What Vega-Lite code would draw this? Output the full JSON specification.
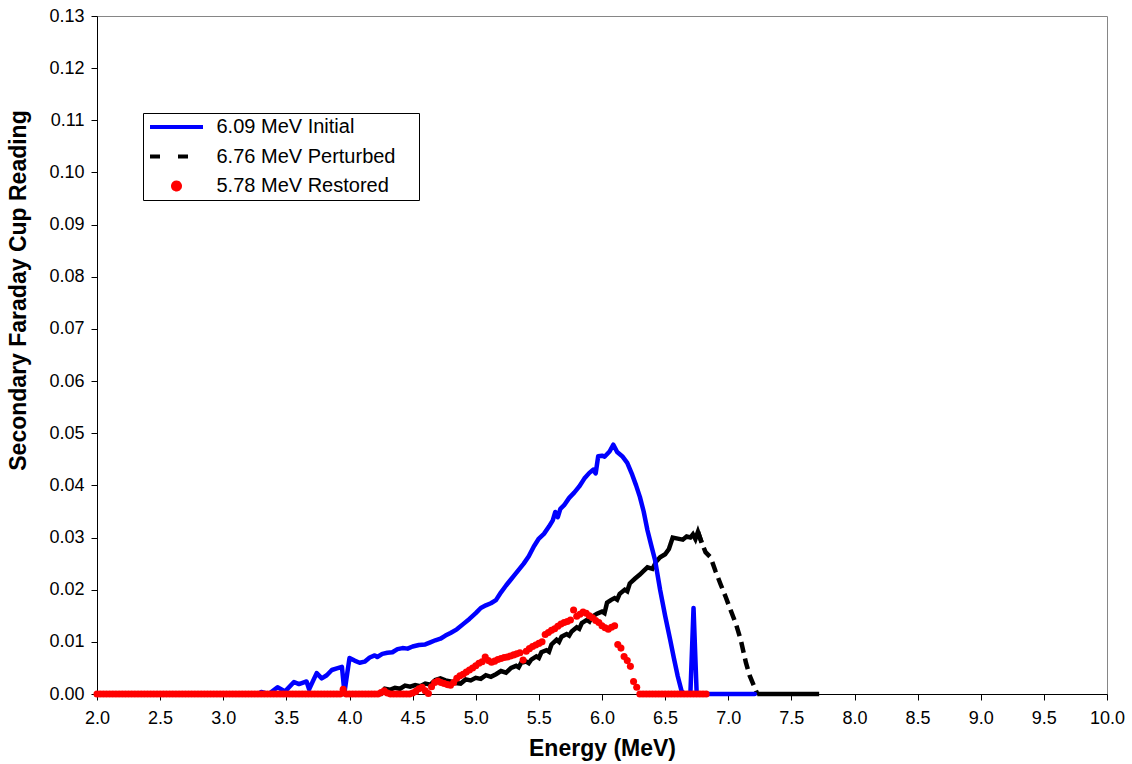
{
  "$schema": "https://vega.github.io/schema/vega-lite/v6.json",
  "width": 1010,
  "height": 678,
  "autosize": {"type": "none"},
  "padding": {"left": 97, "top": 16, "right": 25, "bottom": 70},
  "background": "white",
  "config": {
    "view": {"stroke": "#868686", "strokeWidth": 1},
    "font": "Liberation Sans",
    "axis": {"grid": false, "labelFlush": false, "domainColor": "#000000", "tickColor": "#000000", "labelColor": "#000000", "titleColor": "#000000", "labelFont": "Liberation Sans", "titleFont": "Liberation Sans", "labelFontSize": 18, "titleFontSize": 23, "titleFontWeight": "bold", "tickSize": 6, "domainWidth": 1, "tickWidth": 1},
    "axisX": {"labelPadding": 9, "titlePadding": 10},
    "axisY": {"labelPadding": 7, "titlePadding": 18, "titleY": 274},
    "legend": {"orient": "none", "legendX": 46, "legendY": 97, "strokeColor": "#000000", "fillColor": "#ffffff", "padding": 2, "rowPadding": 7.5, "labelFont": "Liberation Sans", "labelFontSize": 20, "labelColor": "#000000", "symbolSize": 400, "symbolStrokeWidth": 4, "symbolOffset": 19.5, "labelOffset": 28, "labelLimit": 500}
  },
  "datasets": {
    "initial": [
      {"E":2.00,"V":0},{"E":3.28,"V":0},{"E":3.30,"V":0.0004},{"E":3.36,"V":0},{"E":3.43,"V":0.0013},{"E":3.49,"V":0.0005},{"E":3.56,"V":0.0023},{"E":3.60,"V":0.0019},{"E":3.66,"V":0.0024},{"E":3.68,"V":0.0009},{"E":3.74,"V":0.0040},{"E":3.78,"V":0.0030},{"E":3.82,"V":0.0036},{"E":3.86,"V":0.0046},{"E":3.90,"V":0.0049},{"E":3.94,"V":0.0052},{"E":3.96,"V":0.0003},{"E":4.00,"V":0.0069},{"E":4.04,"V":0.0064},{"E":4.08,"V":0.0060},{"E":4.12,"V":0.0062},{"E":4.16,"V":0.0070},{"E":4.20,"V":0.0074},{"E":4.22,"V":0.0071},{"E":4.26,"V":0.0077},{"E":4.30,"V":0.0079},{"E":4.34,"V":0.0080},{"E":4.38,"V":0.0086},{"E":4.42,"V":0.0088},{"E":4.46,"V":0.0087},{"E":4.50,"V":0.0091},{"E":4.55,"V":0.0094},{"E":4.60,"V":0.0095},{"E":4.64,"V":0.0099},{"E":4.68,"V":0.0103},{"E":4.72,"V":0.0106},{"E":4.76,"V":0.0112},{"E":4.80,"V":0.0117},{"E":4.85,"V":0.0124},{"E":4.90,"V":0.0134},{"E":4.95,"V":0.0144},{"E":5.00,"V":0.0155},{"E":5.04,"V":0.0165},{"E":5.08,"V":0.0170},{"E":5.12,"V":0.0174},{"E":5.16,"V":0.0180},{"E":5.20,"V":0.0195},{"E":5.24,"V":0.0208},{"E":5.28,"V":0.0220},{"E":5.30,"V":0.0226},{"E":5.34,"V":0.0238},{"E":5.38,"V":0.0250},{"E":5.42,"V":0.0264},{"E":5.46,"V":0.0283},{"E":5.50,"V":0.0298},{"E":5.54,"V":0.0307},{"E":5.58,"V":0.0321},{"E":5.61,"V":0.0333},{"E":5.63,"V":0.0349},{"E":5.65,"V":0.0339},{"E":5.67,"V":0.0355},{"E":5.70,"V":0.0362},{"E":5.74,"V":0.0376},{"E":5.78,"V":0.0386},{"E":5.82,"V":0.0398},{"E":5.86,"V":0.0413},{"E":5.90,"V":0.0424},{"E":5.93,"V":0.0430},{"E":5.95,"V":0.0423},{"E":5.97,"V":0.0456},{"E":6.00,"V":0.0457},{"E":6.02,"V":0.0455},{"E":6.06,"V":0.0465},{"E":6.09,"V":0.0478},{"E":6.12,"V":0.0464},{"E":6.16,"V":0.0456},{"E":6.20,"V":0.0443},{"E":6.24,"V":0.0420},{"E":6.27,"V":0.0400},{"E":6.30,"V":0.0378},{"E":6.33,"V":0.0350},{"E":6.36,"V":0.0314},{"E":6.39,"V":0.0285},{"E":6.42,"V":0.0257},{"E":6.46,"V":0.0200},{"E":6.50,"V":0.0150},{"E":6.54,"V":0.0104},{"E":6.57,"V":0.0068},{"E":6.60,"V":0.0034},{"E":6.63,"V":0.0006},{"E":6.65,"V":0},{"E":6.70,"V":0},{"E":6.725,"V":0.0165},{"E":6.75,"V":0},{"E":7.21,"V":0}
    ],
    "perturbed": [
      {"E":2.00,"V":0},{"E":4.25,"V":0},{"E":4.28,"V":0.0010},{"E":4.32,"V":0.0008},{"E":4.36,"V":0.0012},{"E":4.40,"V":0.0010},{"E":4.44,"V":0.0016},{"E":4.48,"V":0.0014},{"E":4.52,"V":0.0017},{"E":4.56,"V":0.0015},{"E":4.60,"V":0.0020},{"E":4.64,"V":0.0018},{"E":4.68,"V":0.0027},{"E":4.72,"V":0.0030},{"E":4.76,"V":0.0026},{"E":4.80,"V":0.0024},{"E":4.84,"V":0.0021},{"E":4.88,"V":0.0020},{"E":4.92,"V":0.0028},{"E":4.96,"V":0.0026},{"E":5.00,"V":0.0031},{"E":5.04,"V":0.0029},{"E":5.08,"V":0.0036},{"E":5.12,"V":0.0033},{"E":5.16,"V":0.0038},{"E":5.20,"V":0.0044},{"E":5.24,"V":0.0041},{"E":5.28,"V":0.0050},{"E":5.32,"V":0.0054},{"E":5.34,"V":0.0051},{"E":5.36,"V":0.0060},{"E":5.40,"V":0.0062},{"E":5.42,"V":0.0059},{"E":5.44,"V":0.0066},{"E":5.48,"V":0.0072},{"E":5.50,"V":0.0069},{"E":5.52,"V":0.0080},{"E":5.56,"V":0.0084},{"E":5.58,"V":0.0081},{"E":5.60,"V":0.0095},{"E":5.64,"V":0.0104},{"E":5.66,"V":0.0100},{"E":5.68,"V":0.0110},{"E":5.72,"V":0.0115},{"E":5.74,"V":0.0112},{"E":5.76,"V":0.0120},{"E":5.80,"V":0.0128},{"E":5.82,"V":0.0125},{"E":5.84,"V":0.0136},{"E":5.88,"V":0.0142},{"E":5.90,"V":0.0139},{"E":5.92,"V":0.0148},{"E":5.96,"V":0.0154},{"E":6.00,"V":0.0158},{"E":6.02,"V":0.0155},{"E":6.04,"V":0.0175},{"E":6.07,"V":0.0180},{"E":6.10,"V":0.0184},{"E":6.12,"V":0.0181},{"E":6.14,"V":0.0192},{"E":6.18,"V":0.0200},{"E":6.20,"V":0.0197},{"E":6.22,"V":0.0212},{"E":6.26,"V":0.0221},{"E":6.30,"V":0.0229},{"E":6.33,"V":0.0236},{"E":6.36,"V":0.0243},{"E":6.40,"V":0.0240},{"E":6.43,"V":0.0254},{"E":6.46,"V":0.0262},{"E":6.50,"V":0.0268},{"E":6.53,"V":0.0278},{"E":6.56,"V":0.0300},{"E":6.60,"V":0.0298},{"E":6.64,"V":0.0296},{"E":6.67,"V":0.0302},{"E":6.70,"V":0.0300},{"E":6.72,"V":0.0306},{"E":6.74,"V":0.0297},{"E":6.76,"V":0.0311},{"E":6.79,"V":0.0290},{"E":6.82,"V":0.0272},{"E":6.86,"V":0.0262},{"E":6.90,"V":0.0235},{"E":6.94,"V":0.0210},{"E":6.98,"V":0.0186},{"E":7.02,"V":0.0160},{"E":7.06,"V":0.0135},{"E":7.10,"V":0.0103},{"E":7.14,"V":0.0060},{"E":7.17,"V":0.0035},{"E":7.21,"V":0.0012},{"E":7.23,"V":0},{"E":7.72,"V":0}
    ],
    "restored": [
      {"E":2.000,"V":0},{"E":2.025,"V":0},{"E":2.050,"V":0},{"E":2.075,"V":0},{"E":2.100,"V":0},{"E":2.125,"V":0},{"E":2.150,"V":0},{"E":2.175,"V":0},{"E":2.200,"V":0},{"E":2.225,"V":0},{"E":2.250,"V":0},{"E":2.275,"V":0},{"E":2.300,"V":0},{"E":2.325,"V":0},{"E":2.350,"V":0},{"E":2.375,"V":0},{"E":2.400,"V":0},{"E":2.425,"V":0},{"E":2.450,"V":0},{"E":2.475,"V":0},{"E":2.500,"V":0},{"E":2.525,"V":0},{"E":2.550,"V":0},{"E":2.575,"V":0},{"E":2.600,"V":0},{"E":2.625,"V":0},{"E":2.650,"V":0},{"E":2.675,"V":0},{"E":2.700,"V":0},{"E":2.725,"V":0},{"E":2.750,"V":0},{"E":2.775,"V":0},{"E":2.800,"V":0},{"E":2.825,"V":0},{"E":2.850,"V":0},{"E":2.875,"V":0},{"E":2.900,"V":0},{"E":2.925,"V":0},{"E":2.950,"V":0},{"E":2.975,"V":0},{"E":3.000,"V":0},{"E":3.025,"V":0},{"E":3.050,"V":0},{"E":3.075,"V":0},{"E":3.100,"V":0},{"E":3.125,"V":0},{"E":3.150,"V":0},{"E":3.175,"V":0},{"E":3.200,"V":0},{"E":3.225,"V":0},{"E":3.250,"V":0},{"E":3.275,"V":0},{"E":3.300,"V":0},{"E":3.325,"V":0},{"E":3.350,"V":0},{"E":3.375,"V":0},{"E":3.400,"V":0},{"E":3.425,"V":0},{"E":3.450,"V":0},{"E":3.475,"V":0},{"E":3.500,"V":0},{"E":3.525,"V":0},{"E":3.550,"V":0},{"E":3.575,"V":0},{"E":3.600,"V":0},{"E":3.625,"V":0},{"E":3.650,"V":0},{"E":3.675,"V":0},{"E":3.700,"V":0},{"E":3.725,"V":0},{"E":3.750,"V":0},{"E":3.775,"V":0},{"E":3.800,"V":0},{"E":3.825,"V":0},{"E":3.850,"V":0},{"E":3.875,"V":0},{"E":3.900,"V":0},{"E":3.925,"V":0},{"E":3.950,"V":0.0009},{"E":3.975,"V":0},{"E":4.000,"V":0},{"E":4.025,"V":0},{"E":4.050,"V":0},{"E":4.075,"V":0},{"E":4.100,"V":0},{"E":4.125,"V":0},{"E":4.150,"V":0},{"E":4.175,"V":0},{"E":4.200,"V":0},{"E":4.225,"V":0},
      {"E":4.250,"V":0.0003},{"E":4.275,"V":0.0006},{"E":4.300,"V":0.0002},{"E":4.325,"V":0},{"E":4.350,"V":0},{"E":4.375,"V":0},{"E":4.400,"V":0},{"E":4.425,"V":0},{"E":4.450,"V":0},{"E":4.475,"V":0},{"E":4.500,"V":0.0002},{"E":4.525,"V":0.0005},{"E":4.550,"V":0.0010},{"E":4.575,"V":0.0013},{"E":4.600,"V":0.0006},{"E":4.625,"V":0.0001},{"E":4.650,"V":0.0014},{"E":4.675,"V":0.0022},{"E":4.700,"V":0.0025},{"E":4.725,"V":0.0022},{"E":4.750,"V":0.0020},{"E":4.775,"V":0.0018},{"E":4.800,"V":0.0017},{"E":4.825,"V":0.0022},{"E":4.850,"V":0.0030},{"E":4.875,"V":0.0035},{"E":4.900,"V":0.0038},{"E":4.925,"V":0.0042},{"E":4.950,"V":0.0046},{"E":4.975,"V":0.0050},{"E":5.000,"V":0.0054},{"E":5.025,"V":0.0059},{"E":5.050,"V":0.0062},{"E":5.075,"V":0.0071},{"E":5.100,"V":0.0064},{"E":5.125,"V":0.0061},{"E":5.150,"V":0.0063},{"E":5.175,"V":0.0066},{"E":5.200,"V":0.0068},{"E":5.225,"V":0.0070},{"E":5.250,"V":0.0071},{"E":5.275,"V":0.0073},{"E":5.300,"V":0.0075},{"E":5.325,"V":0.0077},{"E":5.350,"V":0.0079},{"E":5.375,"V":0.0065},{"E":5.400,"V":0.0082},{"E":5.425,"V":0.0087},{"E":5.450,"V":0.0091},{"E":5.475,"V":0.0094},{"E":5.500,"V":0.0097},{"E":5.525,"V":0.0100},{"E":5.550,"V":0.0114},{"E":5.575,"V":0.0118},{"E":5.600,"V":0.0122},{"E":5.625,"V":0.0125},{"E":5.650,"V":0.0130},{"E":5.675,"V":0.0134},{"E":5.700,"V":0.0137},{"E":5.725,"V":0.0139},{"E":5.750,"V":0.0142},{"E":5.775,"V":0.0161},{"E":5.800,"V":0.0149},{"E":5.825,"V":0.0153},{"E":5.850,"V":0.0157},{"E":5.875,"V":0.0155},{"E":5.900,"V":0.0150},{"E":5.925,"V":0.0146},{"E":5.950,"V":0.0141},{"E":5.975,"V":0.0137},{"E":6.000,"V":0.0131},{"E":6.025,"V":0.0127},{"E":6.050,"V":0.0124},{"E":6.075,"V":0.0128},{"E":6.100,"V":0.0131},{"E":6.125,"V":0.0095},{"E":6.150,"V":0.0088},{"E":6.175,"V":0.0072},{"E":6.200,"V":0.0064},{"E":6.225,"V":0.0053},{"E":6.250,"V":0.0024},{"E":6.275,"V":0.0013},
      {"E":6.300,"V":0},{"E":6.325,"V":0},{"E":6.350,"V":0},{"E":6.375,"V":0},{"E":6.400,"V":0},{"E":6.425,"V":0},{"E":6.450,"V":0},{"E":6.475,"V":0},{"E":6.500,"V":0},{"E":6.525,"V":0},{"E":6.550,"V":0},{"E":6.575,"V":0},{"E":6.600,"V":0},{"E":6.625,"V":0},{"E":6.650,"V":0},{"E":6.675,"V":0},{"E":6.700,"V":0},{"E":6.725,"V":0},{"E":6.750,"V":0},{"E":6.775,"V":0},{"E":6.800,"V":0},{"E":6.825,"V":0}
    ]
  },
  "encoding": {
    "x": {"field": "E", "type": "quantitative", "scale": {"domain": [2, 10], "nice": false, "zero": false}, "axis": {"values": [2, 2.5, 3, 3.5, 4, 4.5, 5, 5.5, 6, 6.5, 7, 7.5, 8, 8.5, 9, 9.5, 10], "format": ".1f", "title": "Energy (MeV)"}},
    "y": {"field": "V", "type": "quantitative", "scale": {"domain": [0, 0.13], "nice": false}, "axis": {"values": [0, 0.01, 0.02, 0.03, 0.04, 0.05, 0.06, 0.07, 0.08, 0.09, 0.1, 0.11, 0.12, 0.13], "format": ".2f", "title": "Secondary Faraday Cup Reading"}}
  },
  "layer": [
    {
      "data": {"name": "perturbed"},
      "transform": [{"filter": "datum.E <= 6.79"}],
      "mark": {"type": "line", "strokeWidth": 4.5, "strokeJoin": "miter", "strokeCap": "butt"},
      "encoding": {
        "color": {"datum": "6.76 MeV Perturbed", "type": "nominal",
          "scale": {"domain": ["6.09 MeV Initial", "6.76 MeV Perturbed", "5.78 MeV Restored"], "range": ["#0000FF", "#000000", "#FF0000"]},
          "legend": {
            "title": null,
            "labelExpr": "datum.label + '\u00a0\u2800'",
            "encode": {
              "symbols": {"update": {
                "shape": {"signal": "datum.value === '5.78 MeV Restored' ? 'M0.35,0A0.35,0.35,0,1,1,-0.35,0A0.35,0.35,0,1,1,0.35,0Z' : 'M-2.65,0L2.65,0'"},
                "size": {"value": 400},
                "fill": {"signal": "datum.value === '5.78 MeV Restored' ? '#FF0000' : 'transparent'"},
                "stroke": {"signal": "datum.value === '6.09 MeV Initial' ? '#0000FF' : (datum.value === '6.76 MeV Perturbed' ? '#000000' : 'transparent')"},
                "strokeDash": {"signal": "datum.value === '6.76 MeV Perturbed' ? [10, 18] : [1, 0]"},
                "strokeWidth": {"value": 4},
                "opacity": {"value": 1}
              }}
            }
          }
        }
      }
    },
    {
      "data": {"name": "perturbed"},
      "transform": [{"filter": "datum.E >= 6.76 && datum.E <= 7.23"}],
      "mark": {"type": "line", "strokeWidth": 4.5, "strokeDash": [11, 6], "strokeCap": "butt"},
      "encoding": {"color": {"datum": "6.76 MeV Perturbed", "type": "nominal"}}
    },
    {
      "data": {"name": "perturbed"},
      "transform": [{"filter": "datum.E >= 7.23"}],
      "mark": {"type": "line", "strokeWidth": 4.5, "strokeCap": "butt"},
      "encoding": {"color": {"datum": "6.76 MeV Perturbed", "type": "nominal"}}
    },
    {
      "data": {"name": "initial"},
      "mark": {"type": "line", "strokeWidth": 4.5, "strokeJoin": "round", "strokeCap": "round"},
      "encoding": {"color": {"datum": "6.09 MeV Initial", "type": "nominal"}}
    },
    {
      "data": {"name": "restored"},
      "mark": {"type": "point", "filled": true, "shape": "circle", "size": 50, "opacity": 1},
      "encoding": {"color": {"datum": "5.78 MeV Restored", "type": "nominal"}}
    }
  ]
}
